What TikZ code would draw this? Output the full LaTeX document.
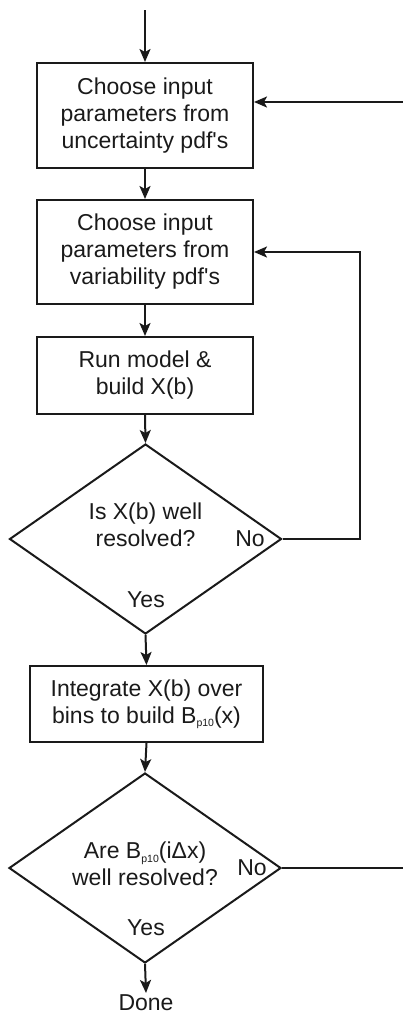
\documentclass[tikz,border=0pt]{standalone}
\usepackage{fontspec}
\setmainfont{Liberation Sans}
\usetikzlibrary{shapes.geometric,arrows.meta}
\definecolor{ink}{HTML}{1A1A1A}
\newcommand{\subtxt}[1]{\raisebox{-3.5pt}{\fontsize{10.5}{11}\selectfont #1}}
\begin{document}
\begin{tikzpicture}[x=1pt,y=-1pt,
  font=\fontsize{23}{27}\selectfont,
  every node/.style={text=ink},
  lbl/.style={inner sep=0pt,align=center},
  procbox/.style={draw=ink,line width=2pt,inner sep=0pt,align=center},
  decision/.style={draw=ink,line width=2pt,diamond,inner sep=0pt,
    minimum width=272pt,minimum height=190pt},
  link/.style={draw=ink,line width=2pt,-{Stealth[length=13pt,width=11pt,inset=3pt]}},
  wire/.style={draw=ink,line width=2pt}]
\useasboundingbox (0,0) rectangle (403,1015);

% process boxes
\node[procbox,minimum width=216pt,minimum height=105pt] (b1) at (145,115.5)
  {Choose input\\parameters from\\uncertainty pdf\textquotesingle s};
\node[procbox,minimum width=216pt,minimum height=104pt] (b2) at (145,252)
  {Choose input\\parameters from\\variability pdf\textquotesingle s};
\node[procbox,minimum width=216pt,minimum height=77pt] (b3) at (145,375.5)
  {Run model \&\\build X(b)};
\node[decision] (d1) at (145.5,539) {};
\node[lbl] (t1) at (145.5,525) {Is X(b) well\\resolved?};
\node[lbl] (no1) at (250,539) {No};
\node[lbl] (yes1) at (146,600) {Yes};

\node[procbox,minimum width=233pt,minimum height=76pt] (b4) at (146.5,704)
  {Integrate X(b) over\\bins to build B\subtxt{p10}(x)};
\node[decision] (d2) at (145,868) {};
\node[lbl] (t2) at (145,864) {Are B\subtxt{p10}(iΔx)\\well resolved?};
\node[lbl] (no2) at (252,868) {No};
\node[lbl] (yes2) at (146,928) {Yes};
\node[inner sep=1pt,anchor=base] (done) at (146,1010) {Done};

% loose ends
\coordinate (start) at (145,10);
\coordinate (fb) at (403,102);
\coordinate (out) at (403,868);

% connectors
\draw[link] (start) -- (b1.north);
\draw[link] (fb) -- (fb -| b1.east);
\draw[link] (b1.south) -- (b2.north);
\draw[link] (b2.south) -- (b3.north);
\draw[link] (b3.south) -- (d1.north);
\draw[link] (d1.east) -- ++(77,0) |- (b2.east);
\draw[link] (d1.south) -- (b4.north);
\draw[link] (b4.south) -- (d2.north);
\draw[wire] (d2.east) -- (out);
\draw[link] (d2.south) -- (done.north);
\end{tikzpicture}
\end{document}
